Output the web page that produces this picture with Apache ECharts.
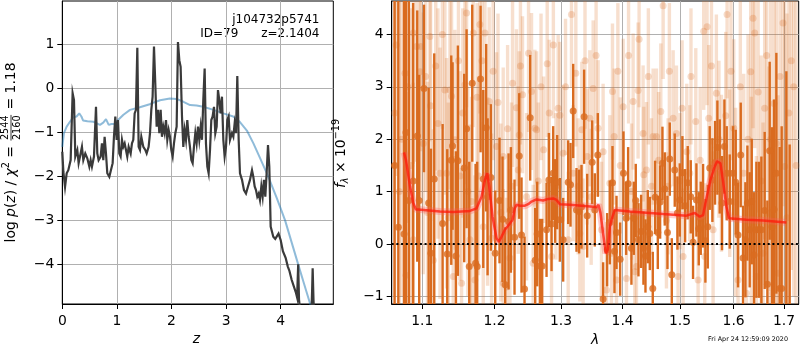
<!DOCTYPE html>
<html><head><meta charset="utf-8">
<script src="https://cdn.jsdelivr.net/npm/echarts@6/dist/echarts.min.js"></script>
<style>html,body{margin:0;padding:0;background:#fff}#c{width:800px;height:350px}</style>
</head><body><div id="c"></div>
<script>
// ---------- data ----------
const zTicks = [0, 1, 2, 3, 4];
const logpTicks = [-4, -3, -2, -1, 0, 1];
const lamTicks = [1.1, 1.2, 1.3, 1.4, 1.5, 1.6, 1.7];
const fluxTicks = [-1, 0, 1, 2, 3, 4];

// log p(z) curve [z, log p]
const pdfCurve = [[0,-1.44],[0.02,-1.9],[0.05,-2.24],[0.08,-1.93],[0.11,-1.86],[0.153,-1.63],[0.189,-0.11],[0.214,-0.27],[0.238,-1.55],[0.275,-1.4],[0.299,-1.7],[0.324,-1.55],[0.36,-1.33],[0.385,-1.63],[0.421,-1.48],[0.458,-1.59],[0.495,-1.78],[0.519,-1.63],[0.543,-1.78],[0.58,-1.55],[0.617,-0.42],[0.641,-1.48],[0.665,-1.63],[0.702,-1.55],[0.726,-1.25],[0.751,-1.63],[0.775,-1.1],[0.8,-1.48],[0.824,-1.93],[0.861,-2.01],[0.891,-2.01],[0.922,-1.7],[0.946,-1.1],[0.971,-0.64],[0.995,-1.17],[1.02,-0.72],[1.044,-1.48],[1.068,-1.55],[1.093,-1.17],[1.117,-1.33],[1.142,-1.25],[1.166,-1.4],[1.19,-1.55],[1.215,-1.33],[1.252,-1.48],[1.276,-1.25],[1.3,-1.17],[1.325,-0.57],[1.349,-0.49],[1.374,0.92],[1.398,-1.33],[1.422,-1.4],[1.447,-1.1],[1.484,-1.33],[1.52,-1.4],[1.545,-1.48],[1.581,-1.33],[1.606,-1.02],[1.63,-0.49],[1.654,-0.19],[1.679,0.95],[1.703,0.11],[1.728,-0.87],[1.752,-0.49],[1.777,-1.02],[1.801,-0.49],[1.825,-1.1],[1.85,-0.87],[1.874,-1.02],[1.899,-0.72],[1.923,-1.17],[1.948,-0.95],[1.972,-1.1],[1.996,-1.4],[2.021,-1.55],[2.045,-1.25],[2.07,-1.02],[2.094,-0.87],[2.118,1.05],[2.143,0.64],[2.167,0.49],[2.192,-0.64],[2.216,-1.33],[2.241,-0.95],[2.265,-1.17],[2.289,-0.72],[2.314,-1.1],[2.338,-1.33],[2.363,-1.63],[2.387,-1.7],[2.411,-1.33],[2.436,-1.02],[2.46,-1.25],[2.485,-0.87],[2.509,-1.17],[2.534,-0.87],[2.558,-1.17],[2.582,-0.27],[2.607,0.45],[2.631,-1.25],[2.656,-1.78],[2.68,-1.93],[2.705,-1.4],[2.729,-0.72],[2.753,-0.64],[2.778,-0.42],[2.802,-1.02],[2.827,-0.87],[2.851,-0.04],[2.875,-0.27],[2.9,-0.57],[2.924,-0.19],[2.949,-1.17],[2.973,-1.55],[2.998,-1.33],[3.022,-0.72],[3.046,-0.64],[3.071,-1.17],[3.107,-1.02],[3.132,-1.1],[3.156,-0.8],[3.181,-1.02],[3.205,0.28],[3.23,-1.17],[3.254,-1.93],[3.291,-2.08],[3.327,-2.31],[3.364,-2.39],[3.401,-2.23],[3.437,-2.08],[3.474,-1.86],[3.498,-2.01],[3.523,-2.23],[3.547,-2.31],[3.571,-2.46],[3.596,-2.39],[3.62,-2.54],[3.645,-2.23],[3.669,-2.46],[3.693,-2.08],[3.718,-2.46],[3.742,-1.93],[3.767,-1.29],[3.791,-1.78],[3.816,-3.14],[3.864,-3.37],[3.9,-3.42],[3.96,-3.3],[4.0,-3.45],[4.04,-3.7],[4.09,-3.85],[4.13,-4.05],[4.16,-4.15],[4.2,-4.35],[4.24,-4.5],[4.28,-4.65],[4.3,-4.75],[4.32,-4.0],[4.335,-4.8],[4.36,-5.1],[4.42,-5.4],[4.5,-5.5],[4.56,-5.2],[4.575,-4.6],[4.585,-4.09],[4.6,-4.8],[4.62,-5.4],[4.66,-5.8]];

// prior curve [z, log p]
const priorCurve = [[0,-1.33],[0.03,-1.02],[0.08,-0.87],[0.14,-0.76],[0.2,-0.66],[0.26,-0.64],[0.31,-0.57],[0.35,-0.64],[0.38,-0.73],[0.46,-0.75],[0.57,-0.76],[0.69,-0.83],[0.75,-0.78],[0.8,-0.7],[0.85,-0.83],[0.9,-0.81],[0.96,-0.81],[1.02,-0.72],[1.12,-0.6],[1.24,-0.49],[1.42,-0.43],[1.6,-0.36],[1.79,-0.27],[1.97,-0.23],[2.09,-0.24],[2.21,-0.3],[2.34,-0.38],[2.46,-0.39],[2.58,-0.42],[2.77,-0.49],[2.95,-0.57],[3.13,-0.64],[3.25,-0.76],[3.38,-0.96],[3.5,-1.25],[3.62,-1.58],[3.77,-2.0],[3.93,-2.5],[4.08,-3.0],[4.2,-3.5],[4.32,-4.0],[4.43,-4.45],[4.54,-4.9],[4.62,-5.25]];

// spectrum, dark points [lambda, flux, err]
const darkPoints = [[1.064,1.5,4.0],[1.0688,0.32,4.6],[1.0761,0.19,4.5],[1.0787,2.13,3.5],[1.0825,0.83,4.0],[1.088,1.2,3.4],[1.0934,2.06,2.4],[1.096,0.83,2.4],[1.1023,2.97,1.6],[1.1085,0.78,2.2],[1.1116,-0.18,2.0],[1.116,1.24,2.4],[1.1273,0.39,1.9],[1.1336,-0.19,2.0],[1.1391,1.6,2.0],[1.1409,1.87,1.6],[1.1455,-0.23,2.0],[1.1482,1.59,2.2],[1.157,1.45,1.8],[1.1603,2.2,1.9],[1.164,-0.43,2.0],[1.1682,3.07,1.5],[1.1729,-0.37,1.9],[1.1752,-0.43,2.0],[1.18,3.15,1.4],[1.1838,1.24,1.7],[1.188,2.22,1.6],[1.19,0.9,1.5],[1.1947,1.27,1.4],[1.201,-0.18,1.2],[1.2072,0.83,1.2],[1.2116,0.47,1.2],[1.2155,-0.78,1.1],[1.2204,0.43,1.3],[1.2238,0.65,1.2],[1.2292,0.13,1.1],[1.2362,1.68,1.2],[1.2396,0.17,1.1],[1.2441,-0.86,1.0],[1.2526,2.41,1.2],[1.2602,-0.31,1.0],[1.2632,0.19,1.0],[1.2673,-0.42,0.9],[1.2708,-0.42,0.9],[1.2775,0.27,0.9],[1.2811,1.22,0.9],[1.2852,0.38,0.9],[1.2877,1.35,0.9],[1.2908,0.82,0.8],[1.2939,1.18,0.9],[1.2981,0.46,0.8],[1.3033,0.08,0.8],[1.3112,1.18,0.8],[1.3149,1.13,0.8],[1.3191,2.54,0.9],[1.3244,0.65,0.8],[1.3286,0.62,0.8],[1.3324,0.71,0.8],[1.3366,2.43,0.9],[1.3415,0.54,0.8],[1.3496,1.56,0.8],[1.3539,0.65,0.7],[1.3588,1.7,0.8],[1.3675,-1.05,0.7],[1.3741,-0.11,0.7],[1.3786,0.41,0.8],[1.383,1.17,0.7],[1.3863,-0.14,0.8],[1.3897,0.22,0.7],[1.3958,-0.29,0.7],[1.4014,1.35,0.8],[1.4059,0.49,0.7],[1.4093,1.15,0.7],[1.4149,-0.08,0.7],[1.4189,0.49,0.7],[1.4223,0.83,0.7],[1.4269,0.08,0.7],[1.4315,0.24,0.7],[1.4355,-0.08,0.7],[1.439,-0.23,0.7],[1.443,0.33,0.7],[1.4465,0.2,0.7],[1.4517,-0.85,0.7],[1.4558,0.89,0.7],[1.4605,0.22,0.7],[1.4646,0.8,0.7],[1.4687,1.54,0.7],[1.4728,1.05,0.7],[1.4776,0.22,0.7],[1.4817,1.62,0.7],[1.4853,-0.59,0.7],[1.4906,1.41,0.7],[1.4954,0.59,0.7],[1.4996,0.84,0.7],[1.5044,1.36,0.7],[1.5093,0.73,0.7],[1.5141,1.17,0.7],[1.5196,0.9,0.7],[1.5238,0.03,0.7],[1.53,0.84,0.7],[1.5343,0.29,0.7],[1.538,0.49,0.7],[1.5423,0.73,0.8],[1.5466,0.06,0.8],[1.551,0.33,0.8],[1.5547,1.45,0.8],[1.5597,1.22,0.8],[1.5647,1.55,0.8],[1.5691,1.84,0.9],[1.5735,1.48,0.9],[1.5779,0.78,0.9],[1.5824,1.86,0.9],[1.5868,1.35,0.9],[1.5926,0.81,0.9],[1.599,1.35,0.9],[1.6041,1.18,1.0],[1.6086,0.17,1.0],[1.6138,1.7,1.0],[1.6183,-0.27,1.0],[1.6229,0.08,1.1],[1.6268,0.78,1.1],[1.6313,0.27,1.1],[1.6353,0.81,1.2],[1.6399,-0.21,1.2],[1.6445,0.27,1.3],[1.6497,0.27,1.3],[1.6544,0.27,1.4],[1.661,0.64,1.5],[1.6664,-0.77,1.6],[1.671,1.78,1.7],[1.6757,0.33,1.9],[1.6798,0.66,2.1],[1.6845,1.35,2.3],[1.6912,-0.85,2.7],[1.6953,-0.85,3.1],[1.7049,-1.4,4.7],[1.7117,-1.6,3.5]];

// spectrum, light points [lambda, flux, err]
const lightPoints = [[1.064,2.5,3.5],[1.066,3.8,2.5],[1.07,1.0,3.8],[1.073,2.0,3.0],[1.0774,3.26,2.5],[1.0787,-0.6,3.5],[1.081,3.0,2.6],[1.085,1.5,3.0],[1.0882,4.03,2.5],[1.0882,0.08,3.0],[1.0926,3.77,2.2],[1.097,3.29,2.4],[1.0978,3.77,2.0],[1.1014,1.92,2.5],[1.1045,3.2,2.2],[1.107,0.6,2.5],[1.1102,3.96,2.0],[1.1111,2.64,2.2],[1.1147,-0.31,2.5],[1.118,3.4,2.0],[1.121,2.3,2.2],[1.1237,1.35,2.4],[1.127,4.0,1.8],[1.1304,2.94,2.0],[1.1327,1.35,2.2],[1.135,0.5,2.2],[1.1373,2.94,1.9],[1.1395,2.82,2.0],[1.1418,-0.62,2.3],[1.1441,1.99,2.1],[1.149,3.5,1.9],[1.151,1.3,2.0],[1.1533,-0.75,2.2],[1.155,2.5,2.0],[1.158,3.04,1.9],[1.1603,4.41,1.8],[1.162,1.0,2.0],[1.165,0.08,2.2],[1.1673,0.81,2.0],[1.1696,4.03,1.8],[1.172,-0.69,2.0],[1.175,2.8,1.8],[1.177,1.3,1.9],[1.179,4.19,1.7],[1.182,3.5,1.7],[1.1838,0.33,2.0],[1.1862,4.03,1.7],[1.19,1.0,1.8],[1.1923,2.72,1.8],[1.1957,0.11,2.0],[1.198,3.3,1.7],[1.2029,1.86,1.8],[1.205,2.7,1.7],[1.209,0.6,1.7],[1.2126,-0.75,1.8],[1.2126,1.67,1.7],[1.2175,-0.82,1.7],[1.219,2.2,1.6],[1.2224,-0.27,1.7],[1.2248,1.1,1.6],[1.2263,3.07,1.6],[1.232,2.6,1.5],[1.2347,1.41,1.6],[1.2362,2.08,1.6],[1.238,3.4,1.5],[1.2411,2.85,1.5],[1.2471,0.9,1.6],[1.2501,3.64,1.5],[1.2546,2.91,1.5],[1.2571,-0.37,1.5],[1.2597,2.21,1.5],[1.2622,2.18,1.5],[1.265,1.2,1.5],[1.269,3.0,1.4],[1.273,1.8,1.4],[1.2785,3.44,1.4],[1.2816,2.5,1.4],[1.2852,-0.24,1.4],[1.288,3.8,1.4],[1.292,1.1,1.4],[1.2955,2.59,1.4],[1.2981,2.46,1.4],[1.3033,1.73,1.3],[1.307,3.0,1.3],[1.3112,0.08,1.3],[1.3164,4.38,1.4],[1.3191,1.35,1.3],[1.3233,3.26,1.4],[1.327,1.1,1.3],[1.3297,0.2,1.3],[1.3329,2.18,1.3],[1.335,-0.05,1.3],[1.338,3.5,1.3],[1.3415,1.67,1.3],[1.3458,2.4,1.3],[1.348,0.9,1.3],[1.3512,2.97,1.3],[1.356,3.6,1.3],[1.3593,2.21,1.3],[1.3648,0.27,1.3],[1.3675,1.76,1.3],[1.373,-0.88,1.3],[1.3786,1.16,1.3],[1.3813,-0.18,1.3],[1.383,2.91,1.3],[1.3858,2.05,1.3],[1.3897,-0.69,1.3],[1.392,3.3,1.3],[1.396,1.5,1.3],[1.4009,2.62,1.3],[1.4065,-0.66,1.3],[1.41,3.6,1.3],[1.415,1.0,1.3],[1.4178,2.72,1.3],[1.4206,-0.53,1.3],[1.4235,-0.43,1.3],[1.4263,2.93,1.3],[1.428,3.91,1.3],[1.4349,2.11,1.3],[1.4361,1.32,1.3],[1.4407,1.41,1.3],[1.444,3.2,1.3],[1.4494,1.1,1.3],[1.4523,2.05,1.3],[1.4581,2.05,1.3],[1.462,1.6,1.3],[1.4658,2.53,1.3],[1.4699,4.55,1.4],[1.4758,0.45,1.3],[1.4787,1.1,1.3],[1.481,3.3,1.3],[1.4877,2.4,1.3],[1.4936,2.11,1.3],[1.4966,-0.62,1.3],[1.5,1.2,1.3],[1.5038,2.59,1.3],[1.5057,-0.24,1.3],[1.5123,1.76,1.3],[1.5178,1.35,1.3],[1.52,3.2,1.3],[1.5288,2.34,1.4],[1.5331,-0.69,1.4],[1.537,1.6,1.4],[1.5435,4.06,1.5],[1.5454,-0.24,1.4],[1.5497,4.15,1.5],[1.5528,2.4,1.4],[1.558,3.4,1.5],[1.561,0.27,1.5],[1.5672,2.88,1.5],[1.572,2.0,1.5],[1.5767,1.35,1.5],[1.5849,2.45,1.6],[1.5875,4.38,1.6],[1.5926,1.35,1.6],[1.595,3.3,1.7],[1.6003,2.21,1.7],[1.604,0.8,1.8],[1.6086,-0.69,1.8],[1.613,3.0,1.9],[1.6196,1.35,1.9],[1.6248,-0.94,2.0],[1.628,2.0,2.0],[1.6333,3.29,2.0],[1.6346,0.71,2.1],[1.6379,4.31,2.1],[1.6412,4.03,2.2],[1.6445,-0.62,2.3],[1.648,2.9,2.3],[1.654,1.2,2.4],[1.6577,-0.18,2.5],[1.661,2.59,2.5],[1.665,3.6,2.6],[1.6697,0.59,2.8],[1.673,2.0,2.9],[1.6777,-0.94,3.0],[1.6798,2.68,3.0],[1.6845,1.92,3.2],[1.6879,-0.56,3.4],[1.692,3.2,3.3],[1.698,4.22,3.5],[1.7015,1.48,3.8],[1.706,0.5,3.9],[1.71,2.5,4.0],[1.715,3.5,4.0],[1.72,3.0,4.0],[1.725,1.5,4.0]];

// best-fit model [lambda, flux]
const modelCurve = [[1.0761,1.75],[1.0787,1.6],[1.0839,1.1],[1.0882,0.78],[1.0917,0.66],[1.0947,0.66],[1.1237,0.62],[1.1418,0.61],[1.1649,0.63],[1.1743,0.68],[1.1814,0.9],[1.1862,1.22],[1.1895,1.35],[1.1923,1.1],[1.1971,0.52],[1.2029,0.11],[1.2062,0.04],[1.2102,0.14],[1.215,0.27],[1.2224,0.39],[1.2263,0.46],[1.2297,0.68],[1.2322,0.75],[1.2371,0.73],[1.2446,0.73],[1.2496,0.76],[1.2546,0.81],[1.2622,0.85],[1.2723,0.83],[1.28,0.86],[1.2877,0.87],[1.2929,0.84],[1.2981,0.76],[1.3138,0.75],[1.3512,0.71],[1.3566,0.7],[1.3599,0.75],[1.3632,0.59],[1.3675,0.2],[1.3719,-0.18],[1.3752,-0.11],[1.3786,0.33],[1.383,0.52],[1.3869,0.65],[1.4121,0.62],[1.4699,0.57],[1.5117,0.54],[1.5269,0.59],[1.5361,0.52],[1.5423,0.55],[1.5485,0.87],[1.556,1.22],[1.5641,1.48],[1.5685,1.58],[1.5748,1.54],[1.5799,1.19],[1.5862,0.71],[1.5913,0.49],[1.6248,0.46],[1.6577,0.45],[1.7049,0.41]];

// ---------- helpers ----------
const FONT = '"DejaVu Sans", sans-serif';
const DARK = '#d96b1f';
const LIGHT = 'rgba(217,108,31,0.22)';
const LIGHTDOT = 'rgba(217,108,31,0.3)';
const minus = v => String(v).replace('-', '\u2212');
const ln = Math.log;

const cv = document.createElement('canvas').getContext('2d');
function tw(t, size, it) { cv.font = (it ? 'italic ' : '') + size + 'px "DejaVu Sans"'; return cv.measureText(t).width; }
function txt(t, x, y, size, it, align) {
  return {type: 'text', x: x, y: y, silent: true, style: {text: t, font: (it ? 'italic ' : '') + size + 'px "DejaVu Sans"', fill: '#000', align: align, verticalAlign: 'middle', textAlign: align, textVerticalAlign: 'middle'}};
}
function mathLabel(pieces) {
  let x = 0; const kids = [];
  pieces.forEach(p => {
    if (p.num) {
      const w = Math.max(tw(p.num, p.size), tw(p.den, p.size));
      const cx = x + w / 2 + 1.5;
      kids.push(txt(p.num, cx, -p.off, p.size, false, 'center'));
      kids.push(txt(p.den, cx, p.off, p.size, false, 'center'));
      kids.push({type: 'line', silent: true, shape: {x1: x + 1, y1: -0.5, x2: x + w + 2, y2: -0.5}, style: {stroke: '#000', lineWidth: 0.8}});
      x += w + 3;
    } else {
      kids.push(txt(p.t, x, p.dy || 0, p.size, p.it, 'left'));
      x += tw(p.t, p.size, p.it);
    }
  });
  return {kids: kids, width: x};
}
const S = 13.9, s = 9.7;
const leftLab = mathLabel([{t: 'log ', size: S}, {t: 'p', size: S, it: true}, {t: '(', size: S}, {t: 'z', size: S, it: true}, {t: ') / ', size: S}, {t: 'χ', size: S, it: true}, {t: '2', size: s, dy: -5}, {t: ' = ', size: S}, {num: '2544', den: '2160', size: s, off: 6}, {t: ' = 1.18', size: S}]);
const rightLab = mathLabel([{t: 'f', size: S, it: true}, {t: 'λ', size: s, it: true, dy: 4}, {t: ' × 10', size: S}, {t: '−19', size: s, dy: -5}]);

function errBars(points, color, w, z) {
  return {
    type: 'custom', xAxisIndex: 1, yAxisIndex: 1, clip: true, silent: true, z: z,
    data: points.map(p => [ln(p[0]), p[1] - p[2], p[1] + p[2]]),
    encode: {x: 0, y: [1, 2]},
    renderItem: function (params, api) {
      const x = api.value(0);
      const a = api.coord([x, api.value(2)]);
      const b = api.coord([x, api.value(1)]);
      return {type: 'rect', shape: {x: a[0] - w / 2, y: a[1], width: w, height: b[1] - a[1]}, style: {fill: color}};
    }
  };
}

const axisCommon = {
  axisLine: {onZero: false, lineStyle: {color: '#000', width: 1}},
  axisTick: {show: true, inside: false, length: 5, lineStyle: {color: '#000', width: 1}},
  splitLine: {show: true, lineStyle: {color: '#b0b0b0', width: 1}}
};
function xAx(grid, min, max, ticks, fmt) {
  return Object.assign({}, axisCommon, {
    gridIndex: grid, type: 'value', min: min, max: max,
    axisTick: Object.assign({}, axisCommon.axisTick, {customValues: ticks}),
    axisLabel: {customValues: ticks, formatter: fmt, color: '#000', fontSize: S, fontFamily: FONT, margin: 10}
  });
}
function yAx(grid, min, max, ticks) {
  return Object.assign({}, axisCommon, {
    gridIndex: grid, type: 'value', min: min, max: max,
    axisTick: Object.assign({}, axisCommon.axisTick, {customValues: ticks}),
    axisLabel: {customValues: ticks, formatter: v => minus(Math.round(v)), color: '#000', fontSize: S, fontFamily: FONT, margin: 8}
  });
}

const chart = echarts.init(document.getElementById('c'), null, {renderer: 'canvas'});
chart.setOption({
  animation: false,
  backgroundColor: '#fff',
  grid: [
    {left: 62.3, top: 1, width: 271, height: 303, show: true, borderColor: '#000', borderWidth: 1, backgroundColor: 'transparent'},
    {left: 391.7, top: 1, width: 407, height: 303, show: true, borderColor: '#000', borderWidth: 1, backgroundColor: 'transparent'}
  ],
  xAxis: [
    xAx(0, 0, 4.963, zTicks, v => minus(Math.round(v))),
    xAx(1, ln(1.0603), ln(1.7304), lamTicks.map(ln), v => Math.exp(v).toFixed(1))
  ],
  yAxis: [
    yAx(0, -4.90, 1.984, logpTicks),
    yAx(1, -1.147, 4.64, fluxTicks)
  ],
  series: [
    {type: 'line', xAxisIndex: 0, yAxisIndex: 0, data: priorCurve, smooth: false, sampling: null, showSymbol: false, symbol: 'none', lineStyle: {color: 'rgba(31,119,180,0.5)', width: 2}, z: 3, silent: true},
    {type: 'line', xAxisIndex: 0, yAxisIndex: 0, data: pdfCurve, smooth: false, sampling: null, showSymbol: false, symbol: 'none', lineStyle: {color: '#3a3a3a', width: 2.2, join: 'miter'}, z: 4, silent: true},
    errBars(lightPoints, LIGHT, 3.4, 3),
    {type: 'scatter', xAxisIndex: 1, yAxisIndex: 1, clip: true, silent: true, z: 3, symbolSize: 7,
      data: lightPoints.map(p => [ln(p[0]), p[1]]), itemStyle: {color: LIGHTDOT}},
    errBars(darkPoints, DARK, 2.4, 4),
    {type: 'scatter', xAxisIndex: 1, yAxisIndex: 1, clip: true, silent: true, z: 4, symbolSize: 7,
      data: darkPoints.map(p => [ln(p[0]), p[1]]), itemStyle: {color: DARK}},
    {type: 'line', xAxisIndex: 1, yAxisIndex: 1, data: modelCurve.map(p => [ln(p[0]), p[1]]), symbol: 'none', silent: true, z: 5,
      lineStyle: {color: 'rgba(255,90,90,0.3)', width: 7}},
    {type: 'line', xAxisIndex: 1, yAxisIndex: 1, data: modelCurve.map(p => [ln(p[0]), p[1]]), symbol: 'none', silent: true, z: 6,
      lineStyle: {color: 'rgba(255,25,10,0.75)', width: 2.5},
      markLine: {silent: true, symbol: 'none', label: {show: false}, animation: false,
        lineStyle: {color: '#000', type: [2, 2.7], width: 2}, data: [{yAxis: 0}]}}
  ],
  graphic: [
    txt('j104732p5741', 319.5, 20, 12, false, 'right'),
    txt('ID=79      z=2.1404', 319.5, 34.3, 12, false, 'right'),
    {type: 'group', x: 11.5, y: 152.5 + leftLab.width / 2, rotation: Math.PI / 2, children: leftLab.kids},
    {type: 'group', x: 341, y: 153.5 + rightLab.width / 2, rotation: Math.PI / 2, children: rightLab.kids},
    txt('z', 196.5, 339, S, true, 'center'),
    txt('λ', 595, 340, S, true, 'center'),
    txt('Fri Apr 24 12:59:09 2020', 788, 339, 6.4, false, 'right')
  ]
});
</script>
</body></html>
